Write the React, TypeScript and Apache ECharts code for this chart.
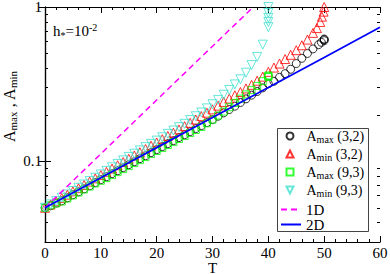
import React, { useEffect, useRef } from "react";
import * as echarts from "echarts";

const FONT = "'Liberation Serif', 'DejaVu Serif', serif";

// T grid and values
const amax32T = [0,1,2,3,4,5,6,7,8,9,10,11,12,13,14,15,16,17,18,19,20,21,22,23,24,25,26,27,28,29,30,31,32,33,34,35,36,37,38,39,40,41,42,43,44,45,46,47,48,49,49.5,50,50,50];
const amax32V = [0.05,0.0515,0.0536,0.0555,0.058,0.0607,0.0634,0.0663,0.0694,0.0727,0.076,0.0794,0.0831,0.0869,0.0909,0.0951,0.0994,0.104,0.1087,0.1138,0.119,0.1245,0.1302,0.1361,0.1424,0.1489,0.1557,0.1629,0.1703,0.1782,0.1863,0.1959,0.2059,0.2165,0.2276,0.2404,0.2539,0.2683,0.2833,0.2991,0.318,0.33,0.35,0.37,0.395,0.43,0.465,0.5,0.535,0.57,0.59,0.605,0.615,0.62];

const amin32T = [0,1,2,3,4,5,6,7,8,9,10,11,12,13,14,15,16,17,18,19,20,21,22,23,24,25,26,27,28,29,30,31,32,33,34,35,36,37,38,39,40,41,42,43,44,45,46,47,48,48.7,49.3,49.6,49.9,50];
const amin32V = [0.05,0.0525,0.0551,0.0579,0.0608,0.0639,0.067,0.0703,0.0739,0.0776,0.0814,0.0855,0.0898,0.0943,0.0989,0.1039,0.1091,0.1145,0.1202,0.1262,0.1325,0.1391,0.146,0.1532,0.1609,0.1689,0.1775,0.1867,0.1963,0.2065,0.2171,0.2294,0.2427,0.255,0.2678,0.2813,0.2967,0.313,0.3328,0.3537,0.38,0.405,0.43,0.46,0.49,0.525,0.565,0.615,0.68,0.73,0.8,0.866,0.933,1.0];

const amax93T = [0,1,2,3,4,5,6,7,8,9,10,11,12,13,14,15,16,17,18,19,20,21,22,23,24,25,26,27,28,29,30,31,32,33,34,35,36,37,38,39,40,40,40];
const amax93V = [0.05,0.0518,0.0533,0.0549,0.0574,0.0601,0.0628,0.0657,0.0687,0.0719,0.0748,0.0778,0.0814,0.0851,0.089,0.0931,0.0974,0.1018,0.1065,0.1114,0.1166,0.1219,0.1275,0.1333,0.1395,0.1458,0.1525,0.1595,0.1668,0.1764,0.1863,0.1979,0.2101,0.2242,0.2391,0.2548,0.2715,0.2893,0.308,0.3307,0.352,0.356,0.36];

const amin93T = [0,1,2,3,4,5,6,7,8,9,10,11,12,13,14,15,16,17,18,19,20,21,22,23,24,25,26,27,28,29,30,31,32,33,34,35,36,37,38,39,40,40,40,40,40];
const amin93V = [0.05,0.0526,0.0552,0.0581,0.061,0.0642,0.0674,0.0708,0.0745,0.0783,0.0822,0.0867,0.0914,0.0962,0.1014,0.1068,0.1121,0.1177,0.1235,0.1297,0.1362,0.1432,0.1506,0.1583,0.1665,0.175,0.1851,0.1959,0.2072,0.2204,0.2344,0.25,0.27,0.29,0.315,0.34,0.375,0.42,0.475,0.57,0.74,0.8,0.85,0.915,1.0];

const line1DT = [0, 10, 20, 30, 37.3];
const line1DV = [0.05, 0.1117, 0.2495, 0.557, 1.0];
const line2DT = [0, 10, 20, 30, 40, 50, 60];
const line2DV = [0.05, 0.0783, 0.1227, 0.1921, 0.3008, 0.4711, 0.74];

const yMajor = [0.1, 1];
const yMinor = [0.03, 0.04, 0.05, 0.06, 0.07, 0.08, 0.09, 0.2, 0.3, 0.4, 0.5, 0.6, 0.7, 0.8, 0.9];

const legendNames: Record<string, string> = {
  "Amax(3,2)": "{a|A}{s|max}{p| (3,2)}",
  "Amin(3,2)": "{a|A}{s|min}{p| (3,2)}",
  "Amax(9,3)": "{a|A}{s|max}{p| (9,3)}",
  "Amin(9,3)": "{a|A}{s|min}{p| (9,3)}",
};

const pairs = (t: number[], v: number[]) => t.map((x, i) => [x, v[i]]);

export default function App() {
  const ref = useRef<HTMLDivElement>(null);
  useEffect(() => {
    if (!ref.current) return;
    const chart = echarts.init(ref.current, undefined, { renderer: "svg" });
    const axisLine = { show: true, lineStyle: { color: "#000", width: 1.2 } };
    const logBase = { type: "log", logBase: 10, min: 0.03, max: 1, splitLine: { show: false } };
    const hollow = (c: string) => ({ color: "rgba(0,0,0,0)", borderColor: c, borderWidth: 1 });
    const option: any = {
      animation: false,
      backgroundColor: "#fff",
      textStyle: { fontFamily: FONT },
      grid: { left: 45, right: 10, top: 7, bottom: 32, outerBoundsMode: "none", containLabel: false },
      xAxis: [
        {
          type: "value", min: 0, max: 60, interval: 10, position: "bottom",
          axisLine, splitLine: { show: false },
          axisTick: { inside: true, length: 6, lineStyle: { color: "#000" } },
          minorTick: { show: true, splitNumber: 5, length: 3, lineStyle: { color: "#000" } },
          axisLabel: { margin: 3, fontFamily: FONT, fontSize: 15, color: "#000" },
          name: "T", nameLocation: "middle", nameGap: 18, nameMoveOverlap: false,
          nameTextStyle: { fontFamily: FONT, fontSize: 15, color: "#000" },
        },
        {
          type: "value", min: 0, max: 60, interval: 10, position: "top",
          axisLine, splitLine: { show: false },
          axisTick: { inside: true, length: 6, lineStyle: { color: "#000" } },
          minorTick: { show: true, splitNumber: 5, length: 3, lineStyle: { color: "#000" } },
          axisLabel: { show: false },
        },
      ],
      yAxis: [
        {
          ...logBase, position: "left", axisLine,
          axisTick: { inside: true, length: 6, customValues: yMajor, lineStyle: { color: "#000" } },
          axisLabel: {
            customValues: yMajor, margin: 3, fontFamily: FONT, fontSize: 15, color: "#000",
            formatter: (v: number) => (v >= 0.99 ? "1" : "0.1"),
          },
          name: "{a|A}{s|max}{a| , A}{s|min}", nameLocation: "middle", nameGap: 26, nameRotate: 90,
          nameMoveOverlap: false,
          nameTextStyle: {
            padding: [0, 0, 0, 36],
            rich: {
              a: { fontFamily: FONT, fontSize: 16, lineHeight: 20, color: "#000" },
              s: { fontFamily: FONT, fontSize: 11, lineHeight: 12, padding: [8, 0, 0, 0], color: "#000" },
            },
          },
        },
        {
          ...logBase, position: "right", axisLine,
          axisTick: { inside: true, length: 6, customValues: yMajor, lineStyle: { color: "#000" } },
          axisLabel: { show: false },
        },
        {
          ...logBase, position: "right", axisLine: { show: false },
          axisTick: { inside: true, length: 3, customValues: yMinor, lineStyle: { color: "#000" } },
          axisLabel: { show: false },
        },
        {
          ...logBase, position: "left", axisLine: { show: false },
          axisTick: { inside: true, length: 3, customValues: yMinor, lineStyle: { color: "#000" } },
          axisLabel: { show: false },
        },
      ],
      legend: [
        {
          data: [
            { name: "Amax(3,2)", icon: "circle" },
            { name: "Amin(3,2)", icon: "triangle" },
            { name: "Amax(9,3)", icon: "rect" },
            { name: "Amin(9,3)", icon: "path://M0,0 L10,0 L5,10 Z" },
          ],
          orient: "vertical", left: 285.5, top: 127, padding: 0, itemGap: 0,
          itemWidth: 7, itemHeight: 7, selectedMode: false,
          formatter: (n: string) => legendNames[n],
          textStyle: {
            fontFamily: FONT, fontSize: 14, lineHeight: 18, color: "#000", padding: [0, 0, 0, 8],
            rich: {
              a: { fontFamily: FONT, fontSize: 14, lineHeight: 18, color: "#000" },
              s: { fontFamily: FONT, fontSize: 10, lineHeight: 11, padding: [7, 0, 0, 0], color: "#000" },
              p: { fontFamily: FONT, fontSize: 14, lineHeight: 18, color: "#000" },
            },
          },
        },
        {
          data: ["1D", "2D"],
          orient: "vertical", left: 280, top: 202, padding: 0, itemGap: 0,
          itemWidth: 20, itemHeight: 12, selectedMode: false,
          itemStyle: { opacity: 0 },
          textStyle: { fontFamily: FONT, fontSize: 15, lineHeight: 12, color: "#000" },
        },
      ],
      graphic: [
        {
          type: "rect", left: 275, top: 126, z: 1,
          shape: { width: 91, height: 103 },
          style: { fill: "none", stroke: "#444", lineWidth: 1 },
        },
        {
          type: "text", left: 53, top: 22,
          style: {
            text: "{m|h}{b|*}{m|=10}{p|-2}",
            rich: {
              m: { fontFamily: FONT, fontSize: 15, lineHeight: 18, fill: "#000" },
              b: { fontFamily: FONT, fontSize: 10, lineHeight: 10, padding: [8, 0, 0, 0], fill: "#000" },
              p: { fontFamily: FONT, fontSize: 10, lineHeight: 10, padding: [0, 0, 8, 0], fill: "#000" },
            },
          },
        },
      ],
      series: [
        {
          type: "scatter", name: "Amax(3,2)", data: pairs(amax32T, amax32V),
          symbol: "circle", symbolSize: 8, clip: false, color: "#000",
          itemStyle: hollow("#000"),
        },
        {
          type: "scatter", name: "Amin(3,2)", data: pairs(amin32T, amin32V),
          symbol: "triangle", symbolSize: 9, clip: false, color: "#ff0000",
          itemStyle: hollow("#ff0000"),
        },
        {
          type: "scatter", name: "Amax(9,3)", data: pairs(amax93T, amax93V),
          symbol: "rect", symbolSize: 7, clip: false, color: "#00ff00",
          itemStyle: hollow("#00ff00"),
        },
        {
          type: "scatter", name: "Amin(9,3)", data: pairs(amin93T, amin93V),
          symbol: "triangle", symbolRotate: 180, symbolSize: 9, clip: false, color: "#40e0d0",
          itemStyle: hollow("#40e0d0"),
        },
        {
          type: "line", name: "1D", data: pairs(line1DT, line1DV), symbol: "none", showSymbol: false,
          color: "#ff00ff", lineStyle: { color: "#ff00ff", width: 1.5, type: [6, 4] },
        },
        {
          type: "line", name: "2D", data: pairs(line2DT, line2DV), symbol: "none", showSymbol: false,
          color: "#0000ff", lineStyle: { color: "#0000ff", width: 1.8 },
        },
      ],
    };
    chart.setOption(option);
    return () => chart.dispose();
  }, []);
  return <div ref={ref} style={{ width: 390, height: 274, position: "absolute", left: 0, top: 0 }} />;
}
